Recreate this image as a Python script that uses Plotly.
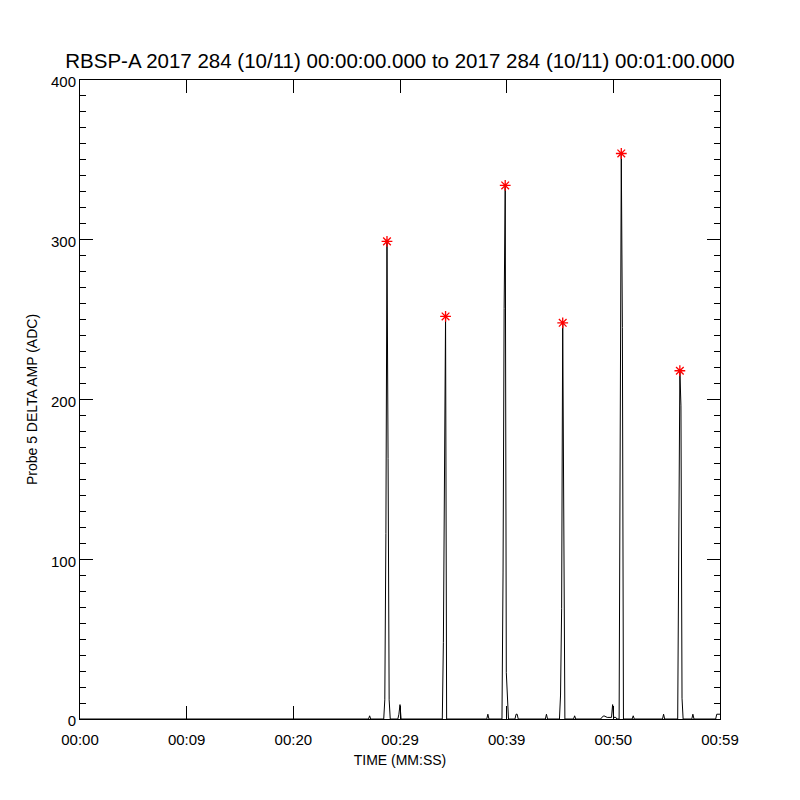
import plotly.graph_objects as go

# ---- data (seconds since 00:00:00, ADC amplitude) ----
time_s = [0.0,
          26.6, 26.7, 26.8,
          28.0, 28.1, 28.2, 28.3, 28.4, 28.5, 28.6,
          29.3, 29.4, 29.5, 29.6,
          33.4, 33.5, 33.6, 33.7, 33.8,
          37.5, 37.6, 37.7,
          38.9, 39.0, 39.1, 39.2, 39.3, 39.4, 39.5,
          40.1, 40.2, 40.3, 40.4,
          42.9, 43.0, 43.1,
          44.2, 44.3, 44.4, 44.5, 44.6, 44.7,
          45.5, 45.6, 45.7,
          48.0, 48.1, 48.3, 48.6, 49.0, 49.1, 49.2, 49.4, 49.5,
          49.7, 49.8, 49.9, 50.0, 50.1,
          50.9, 51.0, 51.1,
          53.7, 53.8, 53.9,
          55.1, 55.2, 55.3, 55.4, 55.5, 55.6,
          56.4, 56.5, 56.6,
          58.6, 58.7, 59.0]
amp_adc = [0,
           0, 2, 0,
           0, 12, 116, 299, 163, 12, 0,
           0, 3, 9, 0,
           0, 48, 174, 252, 0,
           0, 3, 0,
           0, 92, 257, 334, 29, 7, 0,
           0, 3, 3, 0,
           0, 3, 0,
           0, 15, 69, 248, 139, 0,
           0, 2, 0,
           0, 1, 2, 1, 1, 9, 1, 1, 0,
           0, 223, 354, 245, 0,
           0, 2, 0,
           0, 3, 0,
           0, 114, 218, 196, 13, 0,
           0, 3, 0,
           0, 3, 3]

peak_t = [28.3, 33.7, 39.2, 44.5, 49.9, 55.3]
peak_amp = [299, 252, 334, 248, 354, 218]

x_tick_vals = [0, 9.833, 19.667, 29.5, 39.333, 49.167, 59.0]
x_tick_text = ["00:00", "00:09", "00:20", "00:29", "00:39", "00:50", "00:59"]
y_tick_vals = [0, 100, 200, 300, 400]

FONT = "Liberation Sans"

fig = go.Figure()
fig.add_trace(go.Scatter(x=time_s, y=amp_adc, mode="lines",
                         line=dict(color="black", width=1), showlegend=False,
                         hoverinfo="skip"))
fig.add_trace(go.Scatter(x=peak_t, y=peak_amp, mode="markers",
                         marker=dict(symbol="asterisk", size=9,
                                     color="red", line=dict(color="red", width=1.3)),
                         showlegend=False))

fig.update_layout(
    width=800, height=800,
    margin=dict(l=72, r=88, t=72, b=89, autoexpand=False),
    paper_bgcolor="white", plot_bgcolor="white",
    font=dict(family=FONT, color="black", size=15),
    title=dict(text="RBSP-A 2017 284 (10/11) 00:00:00.000 to 2017 284 (10/11) 00:01:00.000",
               x=(400 - 8) / 800, xanchor="center", y=1 - 53 / 800, yanchor="middle",
               font=dict(family=FONT, size=20.5, color="black")),
    xaxis=dict(range=[0, 59], tickmode="array", tickvals=x_tick_vals, ticktext=x_tick_text,
               ticks="inside", ticklen=13, tickwidth=1, tickcolor="black",
               showline=True, linecolor="black", linewidth=1, mirror="ticks",
               showgrid=False, zeroline=False, ticklabelstandoff=7,
               tickfont=dict(size=15),
               title=dict(text="TIME (MM:SS)", font=dict(size=14), standoff=8)),
    yaxis=dict(range=[0, 400], tickmode="array", tickvals=y_tick_vals,
               ticks="inside", ticklen=13, tickwidth=1, tickcolor="black",
               showline=True, linecolor="black", linewidth=1, mirror="ticks",
               showgrid=False, zeroline=False, ticklabelshift=2,
               minor=dict(ticks="inside", ticklen=6, tickwidth=1, tickcolor="black",
                          dtick=10, tick0=0, showgrid=False),
               tickfont=dict(size=15),
               title=dict(text="Probe 5 DELTA AMP (ADC)", font=dict(size=14), standoff=10)),
)

fig.write_html("out.html")
